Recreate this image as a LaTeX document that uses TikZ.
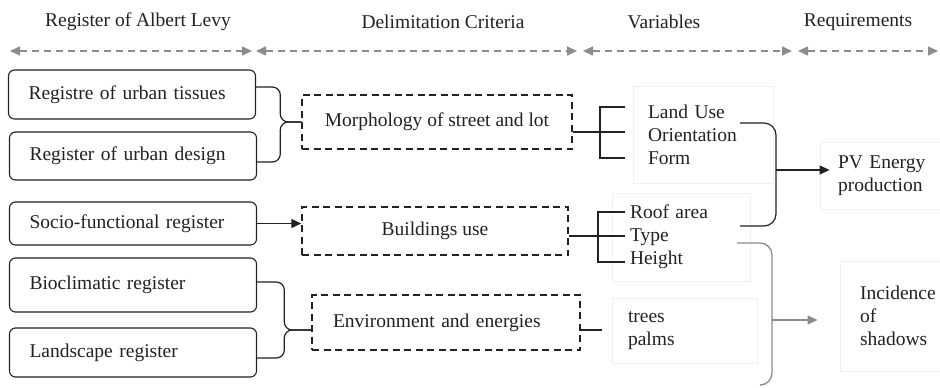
\documentclass[tikz,border=0pt]{standalone}
\usepackage{fontspec}
\setmainfont{Liberation Serif}
\usetikzlibrary{arrows.meta}
\definecolor{ink}{HTML}{222222}
\definecolor{dgray}{HTML}{8C8C8C}
\definecolor{faint}{HTML}{F0F0F0}
\hyphenpenalty=10000
\begin{document}
\begin{tikzpicture}[x=1pt,y=-1pt, font=\fontsize{19.5}{23}\selectfont, text=ink,
 regbox/.style={draw=ink, line width=1.1pt, rounded corners=6pt, text width=207pt, inner xsep=20pt, inner ysep=0pt, align=left},
 dbox/.style={draw=ink, line width=1.4pt, dash pattern=on 7pt off 4.5pt, inner ysep=0pt},
 fbox/.style={draw=faint, line width=0.8pt, inner ysep=0pt, align=left},
 conn/.style={draw=ink, line width=1.2pt},
 gconn/.style={draw=dgray, line width=1.3pt},
 tip/.style={-{Triangle[length=10pt,width=9pt]}},
 hdr/.style={draw=dgray, line width=1.6pt, dash pattern=on 7pt off 5pt, {Triangle[length=10pt,width=9pt]}-{Triangle[length=10pt,width=9pt]}},
]
\useasboundingbox (0,0) rectangle (940,388);
\fill[white] (0,0) rectangle (940,388);

% headers
\node (h1) at (138,22) {Register of Albert Levy};
\node (h2) at (443,22) {Delimitation Criteria};
\node (h3) at (664,22) {Variables};
\node (h4) at (858,22) {Requirements};
\coordinate (a1) at (10,51); \coordinate (a2) at (252,51);
\coordinate (a3) at (256,51); \coordinate (a4) at (577,51);
\coordinate (a5) at (583,51); \coordinate (a6) at (792,51);
\coordinate (a7) at (798,51); \coordinate (a8) at (938,51);
\draw[hdr] (a1) -- (a2);
\draw[hdr] (a3) -- (a4);
\draw[hdr] (a5) -- (a6);
\draw[hdr] (a7) -- (a8);

% registers
\node[regbox, minimum height=49pt] (tis) at (132,94.5) {Registre of urban tissues};
\node[regbox, minimum height=48pt] (des) at (133,156) {Register of urban design};
\node[regbox, minimum height=43pt] (soc) at (133,223.5) {Socio-functional register};
\node[regbox, minimum height=54pt] (bio) at (133,285) {Bioclimatic register};
\node[regbox, minimum height=49pt] (lan) at (133,352.5) {Landscape register};

% criteria
\node[dbox, minimum width=270pt, minimum height=54pt] (mor) at (437,122) {Morphology of street and lot};
\node[dbox, minimum width=266pt, minimum height=48pt] (bui) at (435,231) {Buildings use};
\node[dbox, text width=226pt, inner xsep=21pt, align=left, minimum height=55pt] (env) at (446,322.5) {Environment and energies};

% variables
\node[fbox, text width=110pt, inner xsep=15pt, minimum height=97pt] (v1) at (703,135) {Land Use\\Orientation\\Form};
\node[fbox, text width=102pt, inner xsep=18pt, minimum height=88pt] (v2) at (681,237) {Roof area\\Type\\Height};
\node[fbox, text width=113pt, inner xsep=16pt, minimum height=65pt] (v3) at (684.5,331) {trees\\palms};

% requirements
\node[fbox, text width=110pt, inner xsep=18pt, minimum height=67pt] (pv) at (893,176) {PV Energy\\production};
\node[fbox, text width=100pt, inner xsep=20pt, minimum height=110pt] (inc) at (910,316) {Incidence\\of\\shadows};

% braces registers -> criteria
\draw[conn, rounded corners=8pt] ([yshift=7.5pt]tis.east) -| ([xshift=-21pt]mor.west) -- (mor.west);
\draw[conn, rounded corners=8pt] ([yshift=-6pt]des.east) -| ([xshift=-21pt]mor.west) -- (mor.west);
\draw[conn, tip] (soc.east) -- (bui.west |- soc.east);
\coordinate (envtip) at ([yshift=-7.5pt]env.west);
\draw[conn, rounded corners=8pt] ([yshift=3pt]bio.east) -| ([xshift=-27pt]envtip) -- (envtip);
\draw[conn, rounded corners=8pt] ([yshift=-5.5pt]lan.east) -| ([xshift=-27pt]envtip) -- (envtip);

% criteria -> variables
\coordinate (m0) at ([yshift=-10pt]mor.east);
\coordinate (m1) at (625,107); \coordinate (m2) at (625,132); \coordinate (m3) at (625,158);
\draw[conn] (m0) -- (m2);
\draw[conn] (m1) -- (600,107) -- (600,158) -- (m3);
\coordinate (b0) at ([yshift=-5pt]bui.east);
\coordinate (b1) at (625,212); \coordinate (b2) at (625,236); \coordinate (b3) at (625,262);
\draw[conn] (b0) -- (b2);
\draw[conn] (b1) -- (598,212) -- (598,262) -- (b3);
\coordinate (e0) at ([yshift=-7.5pt]env.east);
\coordinate (e1) at (602,330);
\draw[conn] (e0) -- (e1);

% variables -> requirements
\coordinate (r1) at (740,123); \coordinate (r2) at (740,226); \coordinate (rm) at (776,170);
\draw[conn, rounded corners=12pt] (r1) -- (776,123) -- (776,226) -- (r2);
\draw[conn, tip] (rm) -- ([xshift=10pt]pv.west |- rm);
\coordinate (g1) at (737,243); \coordinate (g2) at (762,385); \coordinate (gm) at (772,320);
\draw[gconn, rounded corners=12pt] (g1) -- (772,243) -- (772,385) -- (g2);
\draw[gconn, -{Triangle[length=10pt,width=9pt,fill=dgray]}] (gm) -- ([xshift=-22pt]inc.west |- gm);
\end{tikzpicture}
\end{document}
